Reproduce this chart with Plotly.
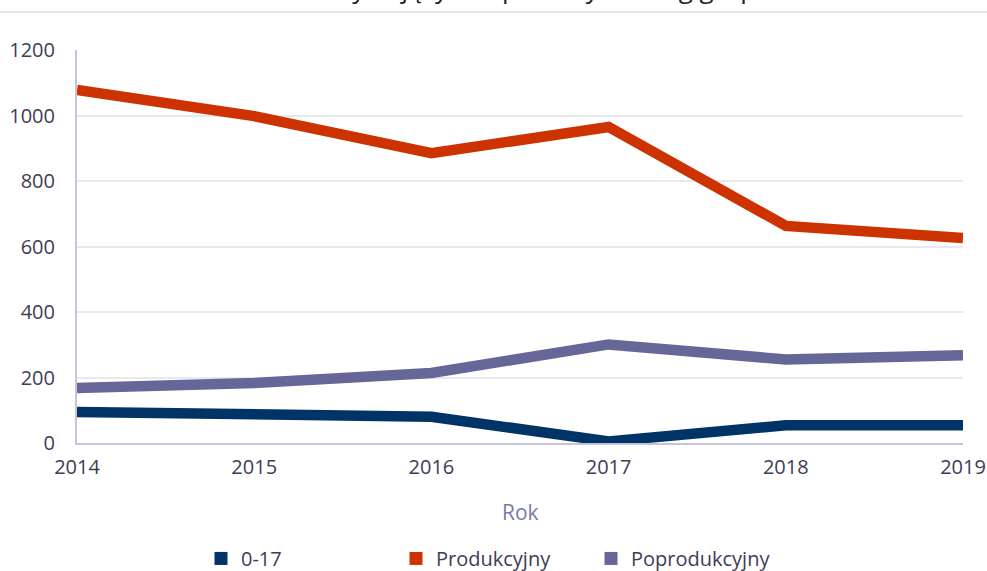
import plotly.graph_objects as go

years = [2014, 2015, 2016, 2017, 2018, 2019]
age_0_17 = [95, 90, 80, 5, 54, 54]
produkcyjny = [1078, 998, 885, 965, 663, 626]
poprodukcyjny = [168, 183, 214, 301, 255, 268]

series_names = ["0-17", "Produkcyjny", "Poprodukcyjny"]
series_values = [age_0_17, produkcyjny, poprodukcyjny]
series_colors = ["#003366", "#cc3300", "#666699"]

y_ticks = [0, 200, 400, 600, 800, 1000, 1200]
title_text = "Liczba osób korzystających z pomocy według grup wieku"
x_title = "Rok"

FONT = "Open Sans"
TXT = "#3d3d55"

fig = go.Figure()
for name, vals, col in zip(series_names, series_values, series_colors):
    fig.add_trace(go.Scatter(
        x=years, y=vals, mode="lines", name=name, legendgroup=name,
        line=dict(color=col, width=10.5), showlegend=False,
        hovertemplate="%{x}: %{y}<extra>" + name + "</extra>",
    ))
for name, col in zip(series_names, series_colors):
    fig.add_trace(go.Scatter(
        x=[None], y=[None], mode="markers", name=name, legendgroup=name,
        marker=dict(symbol="square", size=13, color=col), showlegend=True,
    ))

fig.update_layout(
    width=987, height=571,
    margin=dict(l=77, r=24, t=50, b=128, autoexpand=False),
    paper_bgcolor="white", plot_bgcolor="white",
    font=dict(family=FONT, size=20, color=TXT),
    showlegend=True,
    legend=dict(
        orientation="h", xref="container", yref="container",
        x=0.5, xanchor="center", y=0.022, yanchor="middle",
        entrywidth=150, entrywidthmode="pixels",
        font=dict(family=FONT, size=20, color=TXT),
        itemwidth=30, tracegroupgap=0,
    ),
    xaxis=dict(
        range=[2014, 2019], tickvals=years, ticktext=[str(y) for y in years],
        showgrid=False, zeroline=False, automargin=False,
        showline=True, linecolor="#c4c4da", linewidth=2,
        ticks="outside", ticklen=5, tickcolor="rgba(0,0,0,0)",
        tickfont=dict(family=FONT, size=20, color=TXT),
    ),
    yaxis=dict(
        range=[0, 1200], tickvals=y_ticks,
        showgrid=True, gridcolor="#e8e8f0", gridwidth=1.5,
        zeroline=False, automargin=False,
        showline=True, linecolor="#c4c4da", linewidth=2,
        ticks="outside", ticklen=16, tickcolor="rgba(0,0,0,0)",
        tickfont=dict(family=FONT, size=20, color=TXT),
    ),
)

fig.add_annotation(
    text=x_title, xref="paper", yref="paper", x=0.5, y=0,
    xanchor="center", yanchor="middle", yshift=-69, showarrow=False,
    font=dict(family=FONT, size=21, color="#7a7aaa"),
)
fig.add_annotation(
    text=title_text, xref="paper", yref="paper", x=(493 - 77) / 886, y=1,
    xanchor="center", yanchor="bottom", yshift=42, showarrow=False,
    font=dict(family=FONT, size=26, color="#222222"),
)
fig.add_shape(
    type="line", xref="paper", yref="paper",
    x0=-77 / 886, x1=1 + 24 / 886, y0=1 + 38 / 393, y1=1 + 38 / 393,
    line=dict(color="#e4e4ea", width=2),
)

fig.write_html(
    "out.html",
    config={"displayModeBar": False},
    post_script="document.body.style.margin='0';document.body.style.padding='0';",
)
